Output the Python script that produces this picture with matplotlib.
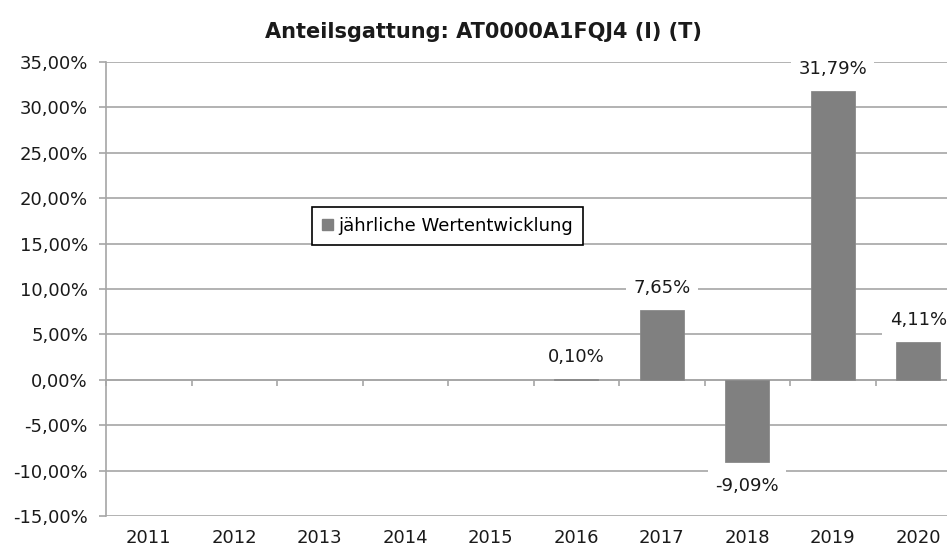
import matplotlib
matplotlib.use("Agg")
import matplotlib.pyplot as plt
from matplotlib.patches import Patch
from matplotlib.ticker import FuncFormatter, MultipleLocator
import numpy as np

years = ["2011", "2012", "2013", "2014", "2015", "2016", "2017", "2018", "2019", "2020"]
values = [np.nan, np.nan, np.nan, np.nan, np.nan, 0.10, 7.65, -9.09, 31.79, 4.11]
title = "Anteilsgattung: AT0000A1FQJ4 (I) (T)"
legend_label = "jährliche Wertentwicklung"

plt.rcParams['font.family'] = ['DejaVu Sans']

def fmt(v):
    return f"{v:.2f}".replace('.', ',') + '%'

W, H = 947, 547
fig = plt.figure(figsize=(W / 100, H / 100), dpi=100)
left, right, top, bottom = 106, 961, 62, 516
ax = fig.add_axes([left / W, (H - bottom) / H, (right - left) / W, (bottom - top) / H])

grid_c = '#a6a6a6'
bar_c = '#808080'
txt_c = '#1a1a1a'
fs = 13

x = np.arange(len(years))
ax.bar(x, values, width=0.52, color=bar_c, edgecolor='#8a8a8a', linewidth=0.6, zorder=3)

ax.set_xlim(-0.5, len(years) - 0.5)
ax.set_ylim(-15, 35)
ax.yaxis.set_major_locator(MultipleLocator(5))
ax.yaxis.set_major_formatter(FuncFormatter(lambda v, p: fmt(v)))
ax.grid(axis='y', color=grid_c, linewidth=1.2, zorder=0)
ax.set_axisbelow(True)

for s in ['top', 'right']:
    ax.spines[s].set_visible(False)
ax.spines['left'].set_color(grid_c)
ax.spines['left'].set_linewidth(1.2)
ax.spines['bottom'].set_position(('data', 0))
ax.spines['bottom'].set_color(grid_c)
ax.spines['bottom'].set_linewidth(1.2)

ax.tick_params(axis='y', length=5, width=1.2, color=grid_c, pad=8, labelsize=fs, labelcolor=txt_c)
ax.set_xticks(x)
ax.set_xticklabels([])
ax.tick_params(axis='x', which='major', length=0)
ax.set_xticks(np.arange(len(years) + 1) - 0.5, minor=True)
ax.tick_params(axis='x', which='minor', length=4, width=1.2, color=grid_c, direction='out')

for i, yl in enumerate(years):
    ax.annotate(yl, xy=(i, 0), xycoords=('data', 'axes fraction'), xytext=(0, -16),
                textcoords='offset points', ha='center', va='center', fontsize=fs, color=txt_c)

for i, v in enumerate(values):
    if np.isnan(v):
        continue
    off = 16 if v >= 0 else -17
    ax.annotate(fmt(v), xy=(i, v), xytext=(0, off), textcoords='offset points',
                ha='center', va='center', fontsize=fs, color=txt_c, zorder=5,
                bbox=dict(boxstyle='square,pad=0.4', facecolor='white', edgecolor='none'))

fig.suptitle(title, x=0.511, y=1 - 32 / H, va='center', fontsize=15, fontweight='bold', color=txt_c)

handle = Patch(facecolor=bar_c, edgecolor=bar_c)
leg = ax.legend([handle], [legend_label], loc='upper left', bbox_to_anchor=((312 - left) / (right - left), (bottom - 207) / (bottom - top)),
                borderaxespad=0, frameon=True, fancybox=False, edgecolor='black', fontsize=fs,
                handlelength=0.6, handleheight=0.6, handletextpad=0.3, borderpad=0.55)
leg.get_frame().set_linewidth(1.2)
leg.get_frame().set_alpha(1)

fig.savefig("out.png", dpi=100)
